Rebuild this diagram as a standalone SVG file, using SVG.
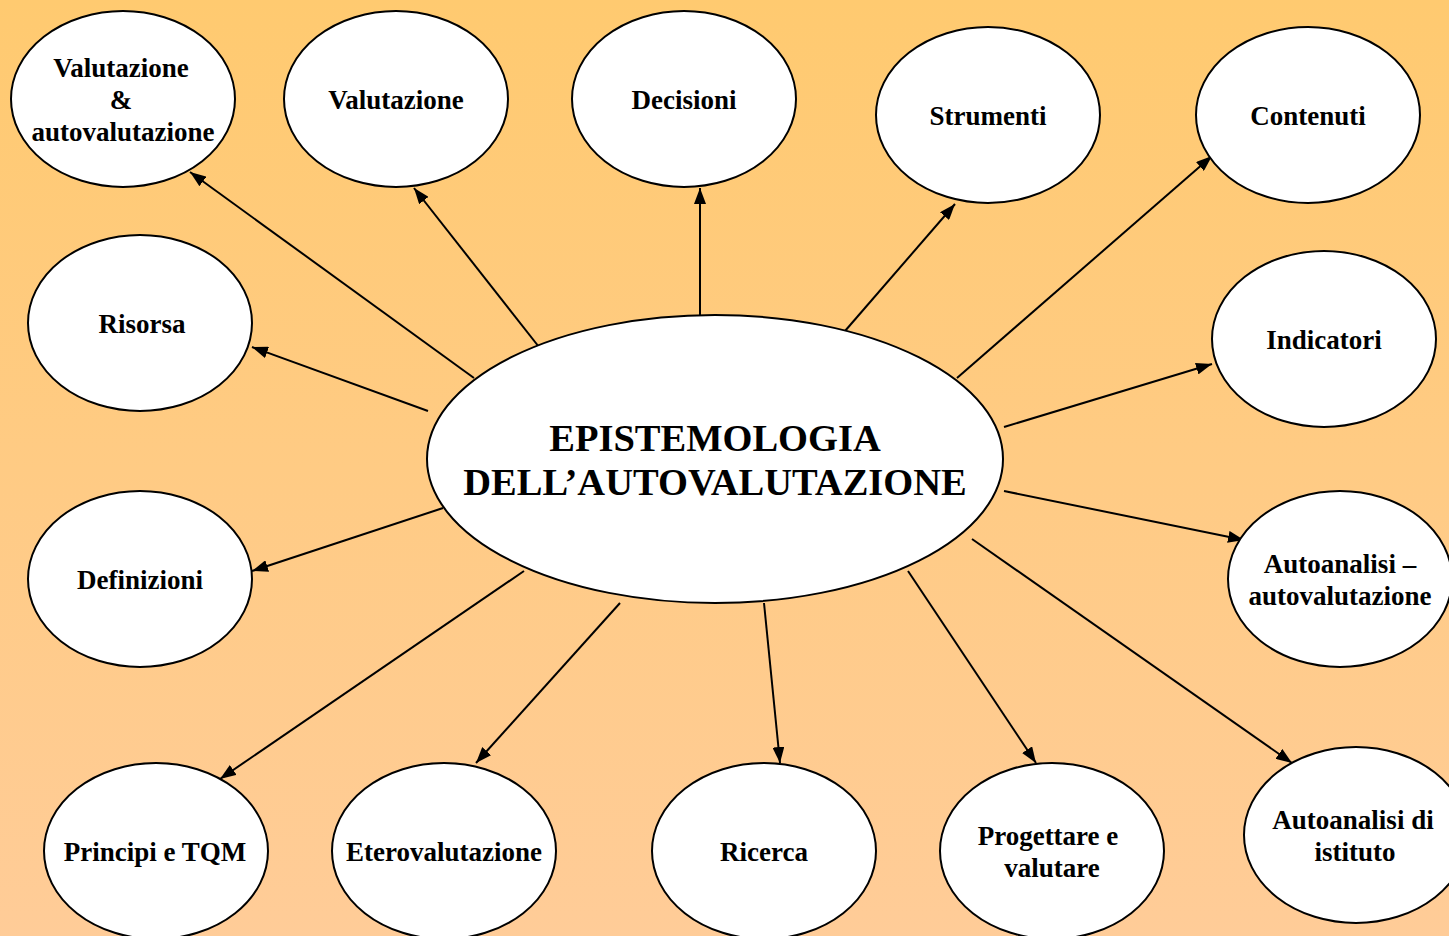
<svg xmlns="http://www.w3.org/2000/svg" width="1449" height="936" viewBox="0 0 1449 936">
<defs>
<linearGradient id="bg" x1="0" y1="0" x2="0" y2="1">
<stop offset="0" stop-color="#FFCA70"/>
<stop offset="1" stop-color="#FFCC98"/>
</linearGradient>
<marker id="ah" viewBox="0 0 16 12" refX="16" refY="6" markerWidth="16" markerHeight="12" markerUnits="userSpaceOnUse" orient="auto">
<path d="M0,0 L16,6 L0,12 Z" fill="#000"/>
</marker>
<style>
.n ellipse{fill:#fff;stroke:#000;stroke-width:2}
.n text{font-family:"Liberation Serif","Times New Roman",serif;font-weight:bold;font-size:27px;text-anchor:middle;fill:#000}
#center text{font-size:38.5px}
#connectors line{stroke:#000;stroke-width:2;marker-end:url(#ah)}
</style>
</defs>
<rect x="0" y="0" width="1449" height="936" fill="url(#bg)"/>
<g id="connectors">
<line x1="474" y1="378" x2="190" y2="172"/>
<line x1="539" y1="347" x2="414" y2="188"/>
<line x1="700" y1="315" x2="700" y2="188"/>
<line x1="845" y1="331" x2="955" y2="204"/>
<line x1="957" y1="378" x2="1212" y2="156"/>
<line x1="428" y1="411" x2="252" y2="347"/>
<line x1="1004" y1="427" x2="1212" y2="364"/>
<line x1="443" y1="508" x2="252" y2="571"/>
<line x1="1004" y1="491" x2="1244" y2="540"/>
<line x1="524" y1="571" x2="220" y2="779"/>
<line x1="620" y1="603" x2="476" y2="763"/>
<line x1="764" y1="603" x2="780" y2="763"/>
<line x1="908" y1="571" x2="1036" y2="763"/>
<line x1="972" y1="539" x2="1292" y2="763"/>
</g>
<g id="center" class="n">
<ellipse cx="715" cy="459" rx="288" ry="144"/>
<text x="715" y="451">EPISTEMOLOGIA</text>
<text x="715" y="495">DELL’AUTOVALUTAZIONE</text>
</g>
<g id="n1" class="n">
<ellipse cx="123" cy="99" rx="112" ry="88"/>
<text x="121" y="77">Valutazione</text>
<text x="121" y="109">&amp;</text>
<text x="123" y="141">autovalutazione</text>
</g>
<g id="n2" class="n">
<ellipse cx="396" cy="99" rx="112" ry="88"/>
<text x="396" y="109">Valutazione</text>
</g>
<g id="n3" class="n">
<ellipse cx="684" cy="99" rx="112" ry="88"/>
<text x="684" y="109">Decisioni</text>
</g>
<g id="n4" class="n">
<ellipse cx="988" cy="115" rx="112" ry="88"/>
<text x="988" y="125">Strumenti</text>
</g>
<g id="n5" class="n">
<ellipse cx="1308" cy="115" rx="112" ry="88"/>
<text x="1308" y="125">Contenuti</text>
</g>
<g id="n6" class="n">
<ellipse cx="140" cy="323" rx="112" ry="88"/>
<text x="142" y="333">Risorsa</text>
</g>
<g id="n7" class="n">
<ellipse cx="1324" cy="339" rx="112" ry="88"/>
<text x="1324" y="349">Indicatori</text>
</g>
<g id="n8" class="n">
<ellipse cx="140" cy="579" rx="112" ry="88"/>
<text x="140" y="589">Definizioni</text>
</g>
<g id="n9" class="n">
<ellipse cx="1340" cy="579" rx="112" ry="88"/>
<text x="1340" y="573">Autoanalisi –</text>
<text x="1340" y="605">autovalutazione</text>
</g>
<g id="n10" class="n">
<ellipse cx="156" cy="851" rx="112" ry="88"/>
<text x="155" y="861">Principi e TQM</text>
</g>
<g id="n11" class="n">
<ellipse cx="444" cy="851" rx="112" ry="88"/>
<text x="444" y="861">Eterovalutazione</text>
</g>
<g id="n12" class="n">
<ellipse cx="764" cy="851" rx="112" ry="88"/>
<text x="764" y="861">Ricerca</text>
</g>
<g id="n13" class="n">
<ellipse cx="1052" cy="851" rx="112" ry="88"/>
<text x="1048" y="845">Progettare e</text>
<text x="1052" y="877">valutare</text>
</g>
<g id="n14" class="n">
<ellipse cx="1356" cy="835" rx="112" ry="88"/>
<text x="1353" y="829">Autoanalisi di</text>
<text x="1355" y="861">istituto</text>
</g>
</svg>
